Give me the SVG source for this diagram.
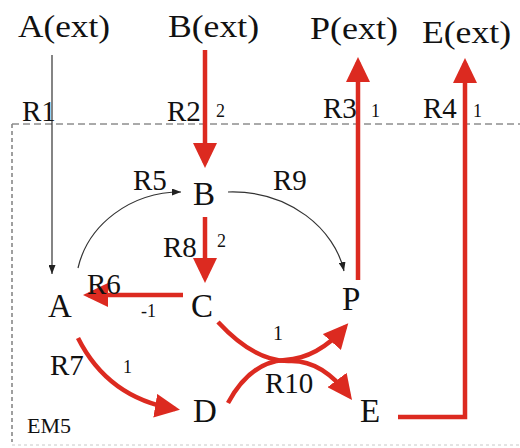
<svg xmlns="http://www.w3.org/2000/svg" width="520" height="448" viewBox="0 0 520 448">
<style>
text{font-family:"Liberation Serif","Times New Roman",serif;fill:#111}
.ext{font-size:32px}
.node{font-size:33px}
.lbl{font-size:29px}
.num{font-size:18px}
.red{fill:none;stroke:#dc2a20;stroke-width:4.5}
.blk{fill:none;stroke:#333;stroke-width:1.2}
</style>
<defs>
<marker id="ra" markerUnits="userSpaceOnUse" markerWidth="25" markerHeight="24" refX="20" refY="12" orient="auto"><path d="M0,0 L25,12 L0,24 z" fill="#dc2a20"/></marker>
<marker id="ba" markerUnits="userSpaceOnUse" markerWidth="9" markerHeight="7" refX="9" refY="3.5" orient="auto"><path d="M0,0 L9,3.5 L0,7 z" fill="#222"/></marker>
</defs>
<rect width="520" height="448" fill="#fff"/>
<g id="compartment">
<path d="M12,124 H520" stroke="#555" stroke-width="1" stroke-dasharray="7 4" fill="none"/>
<path d="M12,124 V442" stroke="#888" stroke-width="1.6" stroke-dasharray="4 3" fill="none"/>
<path d="M12,445 H520" stroke="#c8c8c8" stroke-width="1" stroke-dasharray="3 3" fill="none"/>
<text x="27" y="433" style="font-size:22px">EM5</text>
</g>
<g id="connectors">
<path class="blk" d="M52,55 V274" marker-end="url(#ba)"/>
<path class="blk" d="M78,268 C88,225 130,192 181,192" marker-end="url(#ba)"/>
<path class="blk" d="M228,192 C290,190 335,230 344,271" marker-end="url(#ba)"/>
<path class="red" d="M205,50 V163" marker-end="url(#ra)"/>
<path class="red" d="M205,217 V278" marker-end="url(#ra)"/>
<path class="red" d="M183,295 H88" marker-end="url(#ra)"/>
<path class="red" d="M358,280 V62" marker-end="url(#ra)"/>
<path class="red" d="M398,417 H465 V63" marker-end="url(#ra)"/>
<path class="red" d="M78,338 Q108,398 175,409" marker-end="url(#ra)"/>
<path class="red" d="M218,322 Q255,362 290,361 Q322,360 349,396" marker-end="url(#ra)"/>
<path class="red" d="M228,403 Q250,362 285,360 Q318,358 345,327" marker-end="url(#ra)"/>
</g>
<g id="labels">
<text class="lbl" x="22" y="121">R1</text>
<text class="lbl" x="167" y="121">R2</text><text class="num" x="216" y="117">2</text>
<text class="lbl" x="323" y="118">R3</text><text class="num" x="371" y="117">1</text>
<text class="lbl" x="423" y="118">R4</text><text class="num" x="473" y="117">1</text>
<text class="lbl" x="133" y="190">R5</text>
<text class="lbl" x="273" y="190">R9</text>
<text class="lbl" x="163" y="257">R8</text><text class="num" x="217" y="247">2</text>
<text class="lbl" x="87" y="294">R6</text>
<text class="num" x="141" y="317">-1</text>
<text class="lbl" x="50" y="375">R7</text><text class="num" x="123" y="373">1</text>
<text class="lbl" x="265" y="393">R10</text><text class="num" x="273" y="340" style="font-size:20px">1</text>
</g>
<g id="A_ext"><text class="ext" x="18" y="37" textLength="92" lengthAdjust="spacingAndGlyphs">A(ext)</text></g>
<g id="B_ext"><text class="ext" x="168" y="37" textLength="91" lengthAdjust="spacingAndGlyphs">B(ext)</text></g>
<g id="P_ext"><text class="ext" x="310" y="39" textLength="88" lengthAdjust="spacingAndGlyphs">P(ext)</text></g>
<g id="E_ext"><text class="ext" x="422" y="43" textLength="89" lengthAdjust="spacingAndGlyphs">E(ext)</text></g>
<g id="A"><text class="node" x="48" y="317">A</text></g>
<g id="B"><text class="node" x="193" y="205">B</text></g>
<g id="C"><text class="node" x="191" y="317">C</text></g>
<g id="P"><text class="node" x="342" y="310">P</text></g>
<g id="D"><text class="node" x="193" y="422">D</text></g>
<g id="E"><text class="node" x="360" y="422">E</text></g>
</svg>
